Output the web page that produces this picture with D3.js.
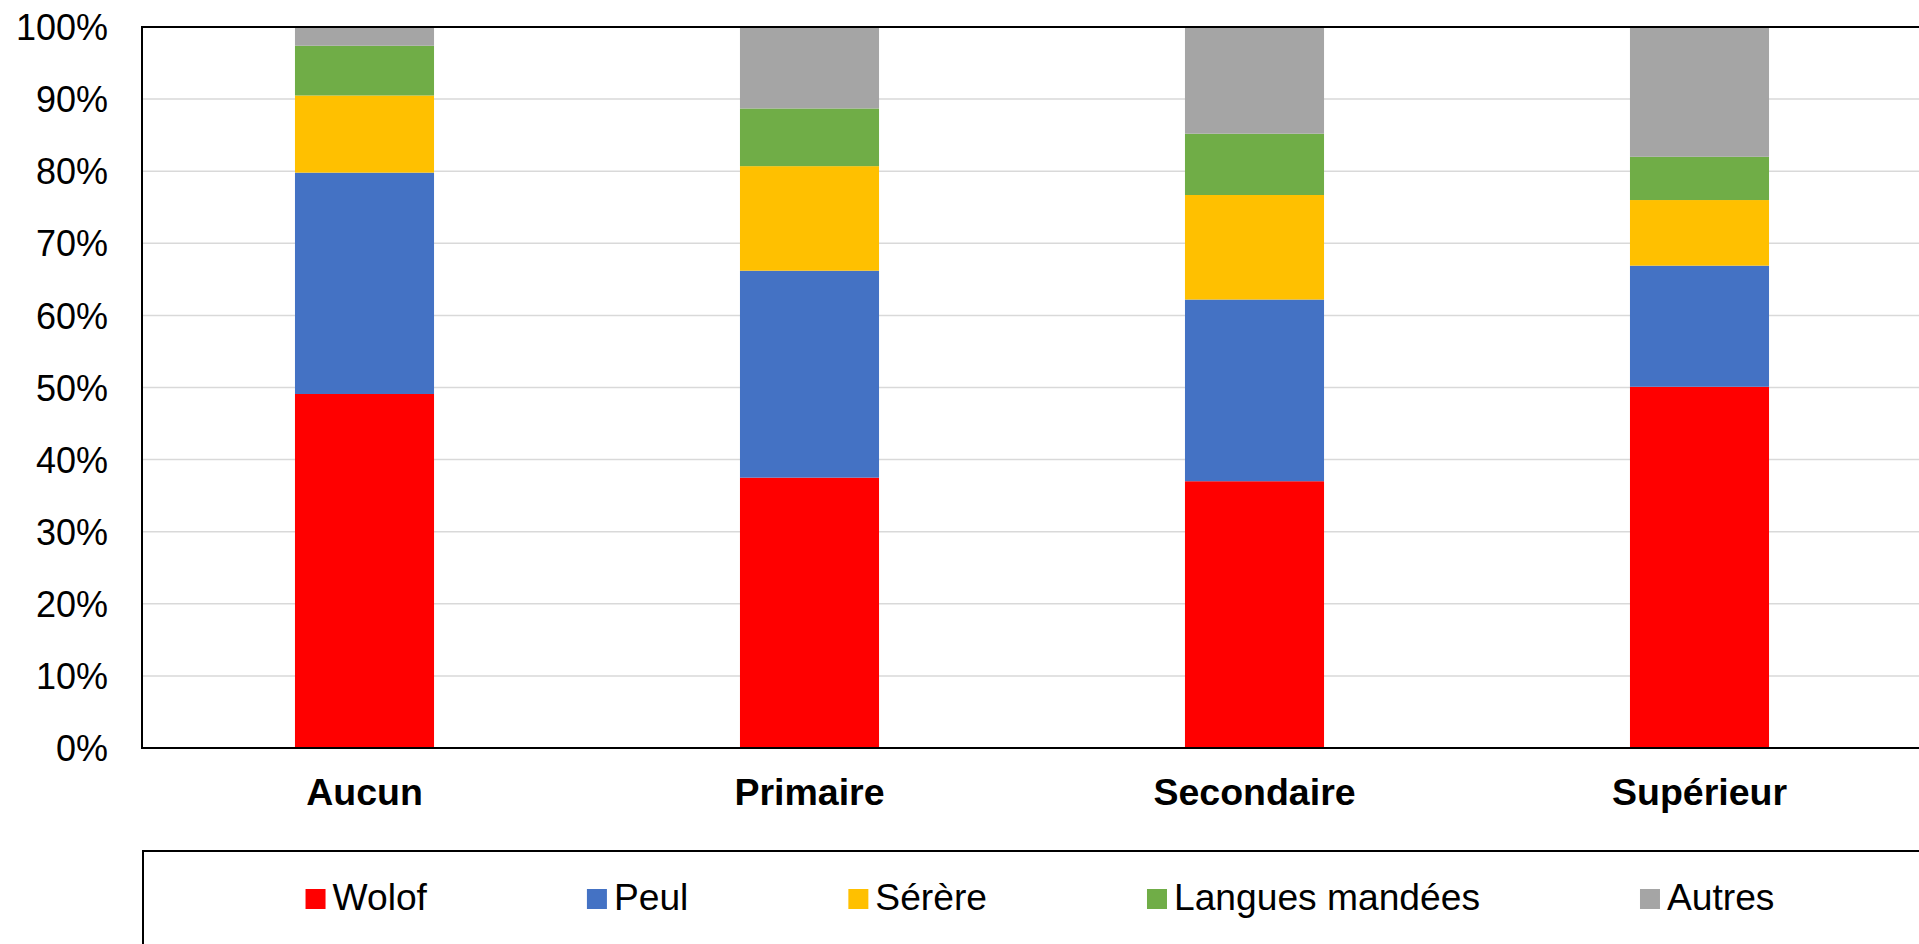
<!DOCTYPE html>
<html>
<head>
<meta charset="utf-8">
<script src="https://cdn.jsdelivr.net/npm/d3@7"></script>
<style>
  html, body { margin: 0; padding: 0; background: #fff; overflow: hidden; }
  svg { display: block; font-family: "Liberation Sans", Arial, sans-serif; }
</style>
</head>
<body>
<svg id="chart" width="1919" height="944"></svg>
<script>
// Niveau d'instruction (catégories)
const categories = ["Aucun", "Primaire", "Secondaire", "Supérieur"];

// Groupes linguistiques (séries empilées, en %)
const seriesNames = ["Wolof", "Peul", "Sérère", "Langues mandées", "Autres"];
const wolof   = [49.1, 37.5, 37.0, 50.1];
const peul    = [30.7, 28.7, 25.2, 16.8];
const serere  = [10.7, 14.5, 14.5,  9.1];
const mandees = [ 6.9,  8.0,  8.5,  6.0];
const autres  = [ 2.6, 11.3, 14.8, 18.0];

// Graduations de l'axe vertical
const yTicks = [0, 10, 20, 30, 40, 50, 60, 70, 80, 90, 100];

const colors = ["#FF0000", "#4472C4", "#FFC000", "#70AD47", "#A5A5A5"];
const seriesValues = [wolof, peul, serere, mandees, autres];

const rows = categories.map((c, i) => {
  const r = { cat: c };
  seriesNames.forEach((s, k) => { r[s] = seriesValues[k][i]; });
  return r;
});

const svg = d3.select("#chart");
const plot = { left: 142, right: 1922, top: 27, bottom: 748 };

const x = d3.scaleBand()
  .domain(categories)
  .range([plot.left, plot.right])
  .paddingInner(0.6875)
  .paddingOuter(0.34375);

const y = d3.scaleLinear().domain([0, 100]).range([plot.bottom, plot.top]);

// Quadrillage horizontal
svg.append("g")
  .selectAll("line")
  .data(yTicks.filter(t => t > 0 && t < 100))
  .join("line")
  .attr("x1", plot.left).attr("x2", plot.right)
  .attr("y1", d => y(d)).attr("y2", d => y(d))
  .attr("stroke", "#D9D9D9").attr("stroke-width", 1.5);

// Barres empilées
const stack = d3.stack().keys(seriesNames)(rows);
svg.append("g")
  .selectAll("g")
  .data(stack)
  .join("g")
  .attr("fill", (d, i) => colors[i])
  .selectAll("rect")
  .data(d => d)
  .join("rect")
  .attr("x", d => x(d.data.cat))
  .attr("width", x.bandwidth())
  .attr("y", d => y(d[1]))
  .attr("height", d => y(d[0]) - y(d[1]));

// Cadre de la zone de tracé
svg.append("rect")
  .attr("x", plot.left).attr("y", plot.top)
  .attr("width", plot.right - plot.left).attr("height", plot.bottom - plot.top)
  .attr("fill", "none").attr("stroke", "#000").attr("stroke-width", 2);

// Axe vertical
const yAxis = d3.axisLeft(y)
  .tickValues(yTicks)
  .tickFormat(d => d + "%")
  .tickSize(0)
  .tickPadding(34);
const gy = svg.append("g").attr("transform", `translate(${plot.left},0)`).call(yAxis);
gy.select(".domain").remove();
gy.selectAll("text")
  .attr("font-size", 36)
  .attr("font-family", "'Liberation Sans', Arial, sans-serif")
  .attr("fill", "#000")
  .attr("dy", "0.35em");

// Axe horizontal (libellés des catégories)
const xAxis = d3.axisBottom(x).tickSize(0).tickPadding(30);
const gx = svg.append("g").attr("transform", `translate(0,${plot.bottom})`).call(xAxis);
gx.select(".domain").remove();
gx.selectAll("text")
  .attr("font-size", 37.5)
  .attr("font-weight", "bold")
  .attr("font-family", "'Liberation Sans', Arial, sans-serif")
  .attr("fill", "#000");

// Légende
const legendTop = 851;
svg.append("rect")
  .attr("x", 143).attr("y", legendTop)
  .attr("width", 1800).attr("height", 200)
  .attr("fill", "none").attr("stroke", "#000").attr("stroke-width", 2);

const legend = svg.append("g");
const items = legend.selectAll("g")
  .data(seriesNames)
  .join("g");
const sw = 20, swGap = 7, itemGap = 160;
items.append("rect")
  .attr("width", sw).attr("height", sw)
  .attr("y", legendTop + 38)
  .attr("fill", (d, i) => colors[i]);
items.append("text")
  .attr("x", sw + swGap)
  .attr("y", legendTop + 59)
  .attr("font-size", 37.2)
  .attr("fill", "#000")
  .text(d => d);

const widths = [];
items.each(function () {
  widths.push(sw + swGap + d3.select(this).select("text").node().getComputedTextLength());
});
const total = d3.sum(widths) + itemGap * (widths.length - 1);
let cx = 1040 - total / 2;
items.attr("transform", (d, i) => {
  const t = `translate(${cx},0)`;
  cx += widths[i] + itemGap;
  return t;
});
</script>
</body>
</html>
